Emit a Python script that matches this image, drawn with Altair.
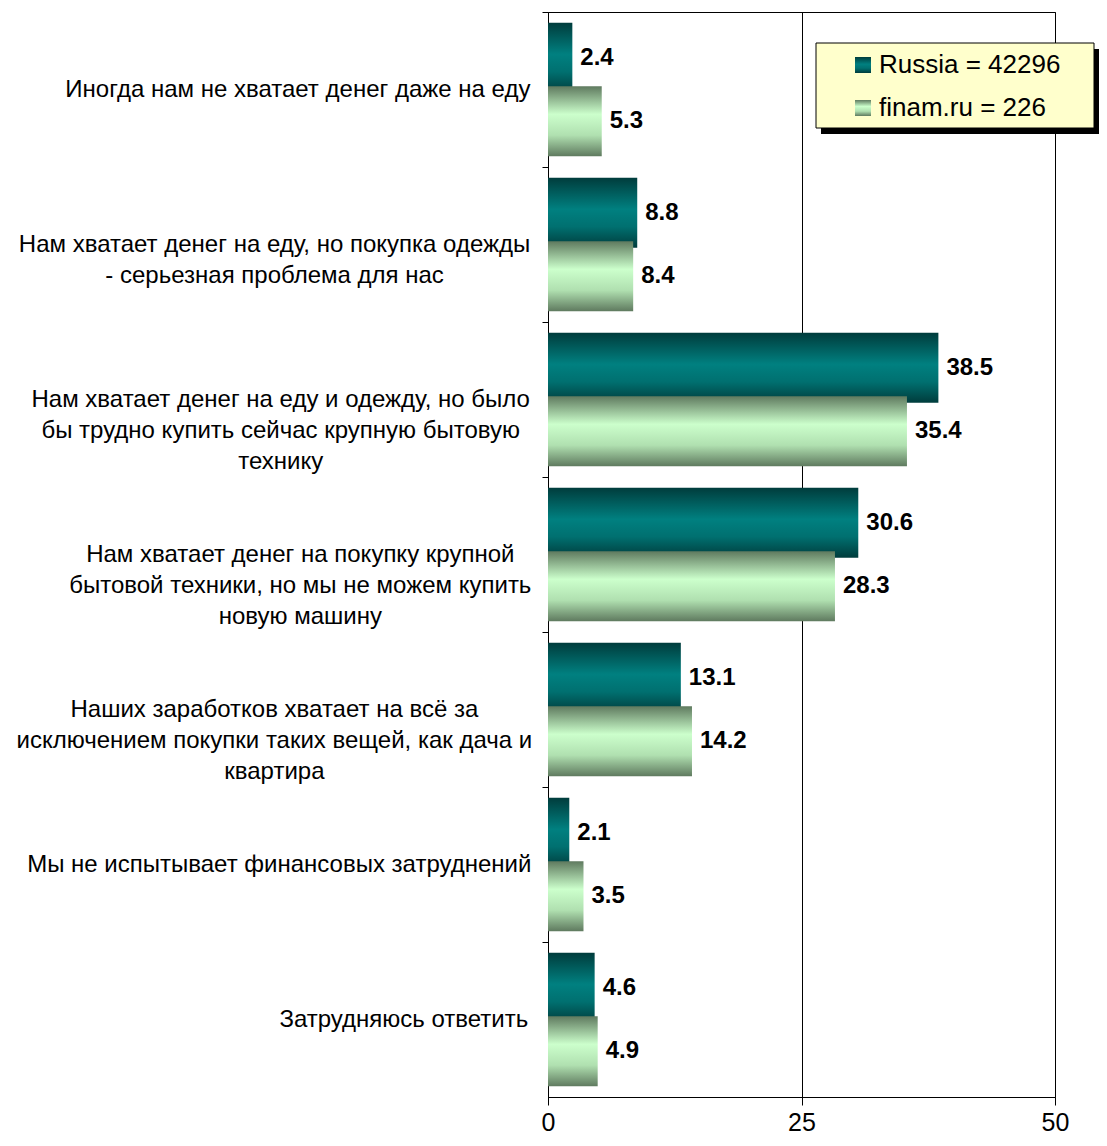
import altair as alt
import pandas as pd

# ---------------- data ----------------
categories = [
    ["Иногда нам не хватает денег даже на еду"],
    ["Нам хватает денег на еду, но покупка одежды", "- серьезная проблема для нас"],
    ["Нам хватает денег на еду и одежду, но было", "бы трудно купить сейчас крупную бытовую", "технику"],
    ["Нам хватает денег на покупку крупной", "бытовой техники, но мы не можем купить", "новую машину"],
    ["Наших заработков хватает на всё за", "исключением покупки таких вещей, как дача и", "квартира"],
    ["Мы не испытывает финансовых затруднений"],
    ["Затрудняюсь ответить"],
]
russia = [2.4, 8.8, 38.5, 30.6, 13.1, 2.1, 4.6]
finam = [5.3, 8.4, 35.4, 28.3, 14.2, 3.5, 4.9]
series = ["Russia = 42296", "finam.ru = 226"]
x_ticks = [0, 25, 50]

# ---------------- layout / style ----------------
W, H = 507, 1085
XMAX = 50
FONT = "Liberation Sans"
LABEL_FS = 24
VAL_FS = 24
LINE_H = 31
WIDTH_CORR = 0.978  # rendered width / estimated width

# approximate Arial advance widths (per 1000 em) for centring multi-line labels
CW = {
    "а": 556, "б": 573, "в": 531, "г": 365, "д": 583, "е": 556, "ё": 556, "ж": 669,
    "з": 458, "и": 559, "й": 559, "к": 438, "л": 583, "м": 688, "н": 552, "о": 556,
    "п": 542, "р": 556, "с": 500, "т": 458, "у": 500, "ф": 823, "х": 500, "ц": 573,
    "ч": 521, "ш": 802, "щ": 823, "ъ": 625, "ы": 719, "ь": 521, "э": 510, "ю": 750,
    "я": 542, "И": 722, "Н": 722, "М": 833, "З": 604, " ": 278, ",": 278, "-": 333,
    ".": 278,
}


def text_w(s, fs):
    return sum(CW.get(c, 556) for c in s) * fs / 1000.0 * WIDTH_CORR


cat_keys = [" ".join(c) for c in categories]

rows = []
for k, r, f in zip(cat_keys, russia, finam):
    rows.append({"cat": k, "series": series[0], "value": r})
    rows.append({"cat": k, "series": series[1], "value": f})
bars = pd.DataFrame(rows)

lab_rows = []
for k, lines in zip(cat_keys, categories):
    wmax = max(text_w(l, LABEL_FS) for l in lines)
    cx_px = -21 - wmax / 2.0
    lab_rows.append({"cat": k, "lines": lines, "cx": cx_px * XMAX / W})
labels = pd.DataFrame(lab_rows)

grad_ru = alt.LinearGradient(
    gradient="linear", x1=0, x2=0, y1=0, y2=1,
    stops=[alt.GradientStop(color="#003c3c", offset=0),
           alt.GradientStop(color="#008080", offset=0.45),
           alt.GradientStop(color="#007070", offset=0.7),
           alt.GradientStop(color="#003c3c", offset=1)])
grad_fi = alt.LinearGradient(
    gradient="linear", x1=0, x2=0, y1=0, y2=1,
    stops=[alt.GradientStop(color="#5f7a5f", offset=0),
           alt.GradientStop(color="#ccffcc", offset=0.4),
           alt.GradientStop(color="#b0e0b0", offset=0.7),
           alt.GradientStop(color="#5f7a5f", offset=1)])

x_axis = alt.Axis(values=x_ticks, title=None, grid=True, gridColor="black", gridOpacity=1,
                  tickSize=8, tickColor="black", domainColor="black", labelColor="black",
                  labelFontSize=25, labelFont=FONT, labelPadding=5, labelFlush=False)
x_scale = alt.Scale(domain=[0, XMAX], nice=False, zero=True)
y_axis = alt.Axis(labels=False, title=None, bandPosition=0, tickSize=6, tickColor="black",
                  domainColor="black", grid=False)
y_scale = alt.Scale(domain=cat_keys, paddingInner=0, paddingOuter=0)
yoff = alt.YOffset("series:N", sort=series,
                   scale=alt.Scale(domain=series, paddingOuter=0.22, paddingInner=0))

Y = alt.Y("cat:N", sort=cat_keys, scale=y_scale, axis=y_axis)

base = alt.Chart(bars)

bar_ru = base.transform_filter(alt.datum.series == series[0]).mark_bar(
    size=70, color=grad_ru).encode(
    x=alt.X("value:Q", scale=x_scale, axis=x_axis), y=Y, yOffset=yoff)
bar_fi = base.transform_filter(alt.datum.series == series[1]).mark_bar(
    size=70, color=grad_fi).encode(
    x=alt.X("value:Q", scale=x_scale, axis=x_axis), y=Y, yOffset=yoff)

val_text = base.mark_text(align="left", baseline="middle", dx=8, font=FONT,
                          fontSize=VAL_FS, fontWeight="bold", color="black").encode(
    x=alt.X("value:Q", scale=x_scale, axis=x_axis), y=Y, yOffset=yoff,
    text=alt.Text("value:Q", format=".1f"))

cat_text = alt.Chart(labels).mark_text(align="center", baseline="middle", font=FONT,
                                       fontSize=LABEL_FS, lineHeight=LINE_H,
                                       color="black").encode(
    x=alt.X("cx:Q", scale=x_scale, axis=x_axis), y=Y, text="lines")

# ---------------- legend (drawn by hand) ----------------
leg = alt.Chart(pd.DataFrame({"s": series}))
one = leg.transform_filter(alt.datum.s == series[0])
shadow = one.mark_rect(color="black").encode(
    x=alt.value(273), x2=alt.value(551), y=alt.value(37), y2=alt.value(122))
box = one.mark_rect(fill="#ffffcc", stroke="black", strokeWidth=1).encode(
    x=alt.value(268), x2=alt.value(546), y=alt.value(31), y2=alt.value(116))
sym_ru = one.mark_rect(color=grad_ru).encode(
    x=alt.value(307), x2=alt.value(323), y=alt.value(45), y2=alt.value(61))
sym_fi = one.mark_rect(color=grad_fi).encode(
    x=alt.value(307), x2=alt.value(323), y=alt.value(88), y2=alt.value(104))
txt_ru = leg.transform_filter(alt.datum.s == series[0]).mark_text(
    align="left", baseline="middle", font=FONT, fontSize=26, color="black").encode(
    x=alt.value(331), y=alt.value(53), text="s:N")
txt_fi = leg.transform_filter(alt.datum.s == series[1]).mark_text(
    align="left", baseline="middle", font=FONT, fontSize=26, color="black").encode(
    x=alt.value(331), y=alt.value(96), text="s:N")

chart = alt.layer(bar_ru, bar_fi, val_text, cat_text,
                  shadow, box, sym_ru, sym_fi, txt_ru, txt_fi).properties(
    width=W, height=H,
    padding={"left": 540, "top": 4, "right": 44, "bottom": 41},
    autosize=alt.AutoSizeParams(type="none"),
    background="white",
).configure_view(stroke="black", strokeWidth=1).configure_axis(labelFont=FONT)

chart.save("out.html", embed_options={"renderer": "svg", "actions": False})
